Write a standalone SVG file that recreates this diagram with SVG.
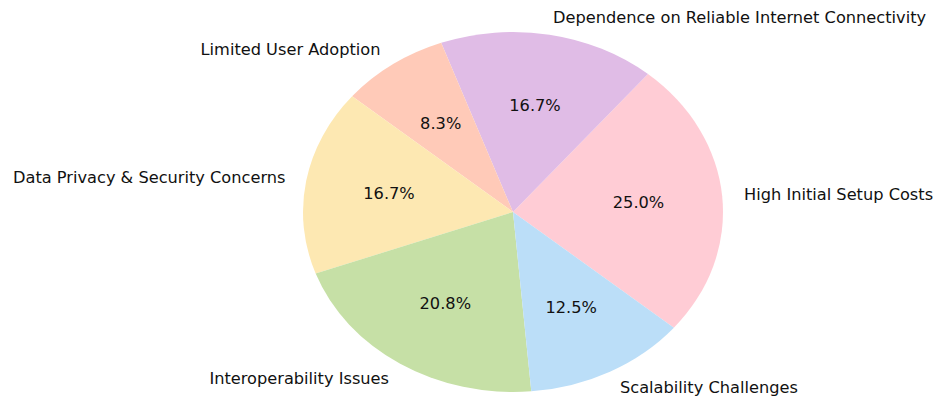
<svg xmlns="http://www.w3.org/2000/svg" width="935" height="397" viewBox="0 0 935 397">
  <style>
    .lbl { font-family: "DejaVu Sans", sans-serif; font-size: 15px; fill: #111; }
    .pct { font-family: "DejaVu Sans", sans-serif; font-size: 15px; fill: #111; text-anchor: middle; }
    .end { text-anchor: end; }
  </style>
  <rect width="935" height="397" fill="#ffffff"/>
  <g id="pie">
    <g id="slice-setup-costs">
      <path d="M513,212 L673.87,327.70 A210,180 0 0 0 647.99,74.12 Z" fill="#FFCCD5"/>
      <text class="pct" transform="translate(638.5,208) scale(1.08,1)">25.0%</text>
      <text class="lbl" transform="translate(744,200) scale(1.08,1)">High Initial Setup Costs</text>
    </g>
    <g id="slice-connectivity">
      <path d="M513,212 L647.99,74.12 A210,180 0 0 0 441.18,42.86 Z" fill="#E0BCE6"/>
      <text class="pct" transform="translate(535,111) scale(1.08,1)">16.7%</text>
      <text class="lbl" transform="translate(553,22.5) scale(1.08,1)">Dependence on Reliable Internet Connectivity</text>
    </g>
    <g id="slice-adoption">
      <path d="M513,212 L441.18,42.86 A210,180 0 0 0 352.13,96.30 Z" fill="#FFCAB8"/>
      <text class="pct" transform="translate(440.7,129) scale(1.08,1)">8.3%</text>
      <text class="lbl end" transform="translate(380.5,55) scale(1.08,1)">Limited User Adoption</text>
    </g>
    <g id="slice-privacy">
      <path d="M513,212 L352.13,96.30 A210,180 0 0 0 315.66,273.56 Z" fill="#FDE8B2"/>
      <text class="pct" transform="translate(389,198.5) scale(1.08,1)">16.7%</text>
      <text class="lbl end" transform="translate(285.5,183) scale(1.08,1)">Data Privacy &amp; Security Concerns</text>
    </g>
    <g id="slice-interoperability">
      <path d="M513,212 L315.66,273.56 A210,180 0 0 0 531.30,391.31 Z" fill="#C6E0A6"/>
      <text class="pct" transform="translate(445.3,308.5) scale(1.08,1)">20.8%</text>
      <text class="lbl end" transform="translate(389,384) scale(1.08,1)">Interoperability Issues</text>
    </g>
    <g id="slice-scalability">
      <path d="M513,212 L531.30,391.31 A210,180 0 0 0 673.87,327.70 Z" fill="#BBDEF8"/>
      <text class="pct" transform="translate(571.2,313) scale(1.08,1)">12.5%</text>
      <text class="lbl" transform="translate(620,392.5) scale(1.08,1)">Scalability Challenges</text>
    </g>
  </g>
  <g id="connectors"/>
</svg>
